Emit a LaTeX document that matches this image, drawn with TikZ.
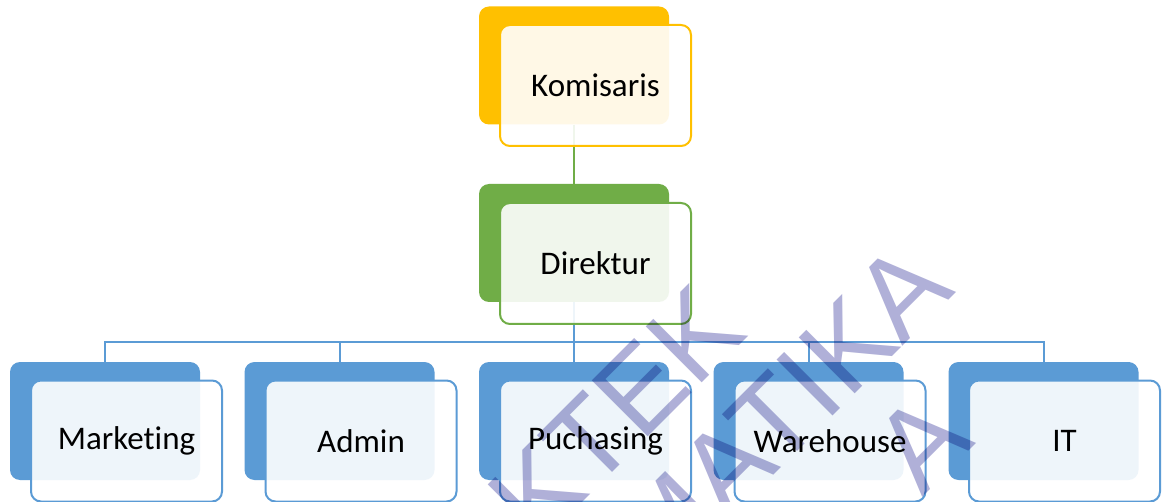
\documentclass[tikz,border=0pt]{standalone}
\usepackage{fontspec}
\setmainfont{Carlito}[Ligatures=NoCommon]
\newfontfamily\wmfont{Liberation Sans}
\definecolor{cyellow}{HTML}{FFC000}
\definecolor{cgreen}{HTML}{70AD47}
\definecolor{cblue}{HTML}{5B9BD5}
\definecolor{wmc}{HTML}{B0B0D8}
\begin{document}
\begin{tikzpicture}[x=1pt,y=-1pt,
  back/.style={fill=#1, draw=none, rounded corners=10pt, minimum width=190pt, minimum height=118pt, inner sep=0pt},
  front/.style={fill=white, fill opacity=0.9, text opacity=1, draw=#1, line width=2pt, rounded corners=10pt, minimum width=191pt, minimum height=121pt, inner sep=0pt, font=\fontsize{33}{40}\selectfont},
  conn/.style={draw=#1, line width=2pt},
  wm/.style={font=\wmfont\fontsize{115}{115}\selectfont, text=wmc, rotate=45, anchor=base east, inner sep=0pt}
]
\useasboundingbox[fill=white] (0,0) rectangle (1164,502);

% back boxes
\node[back=cyellow] (kb) at (574,65.5) {};
\node[back=cgreen]  (db) at (574,243) {};
\node[back=cblue] (mb) at (105,421) {};
\node[back=cblue] (ab) at (339.5,421) {};
\node[back=cblue] (pb) at (574,421) {};
\node[back=cblue] (wb) at (808.5,421) {};
\node[back=cblue] (ib) at (1043.5,421) {};

% connectors
\coordinate (bus) at (574,342);
\draw[conn=cgreen] (kb.south) -- (db.north);
\draw[conn=cblue] (db.south) -- (pb.north);
\draw[conn=cblue] (mb.north) -- (mb.north |- bus) -- (ib.north |- bus) -- (ib.north);
\draw[conn=cblue] (ab.north) -- (ab.north |- bus);
\draw[conn=cblue] (wb.north) -- (wb.north |- bus);

% front boxes
\node[front=cyellow] (k) at (595.5,85.5) {Komisaris};
\node[front=cgreen]  (d) at (595.5,263.5) {Direktur};
\node[front=cblue] (m) at (126.5,441) {Marketing};
\node[front=cblue] (a) at (361,441) {Admin};
\node[front=cblue] (p) at (595.5,441) {Puchasing};
\node[front=cblue] (w) at (830,441) {Warehouse};
\node[front=cblue] (i) at (1064.5,441) {IT};

% watermark
\begin{scope}[blend mode=multiply]
\clip (0,0) rectangle (1164,502);
\node[wm] (w1) at (750,335) {KTEK};
\node[wm] (w2) at (957,292) {MATIKA};
\node[wm] (w3) at (977,443) {A};
\end{scope}
\end{tikzpicture}
\end{document}
